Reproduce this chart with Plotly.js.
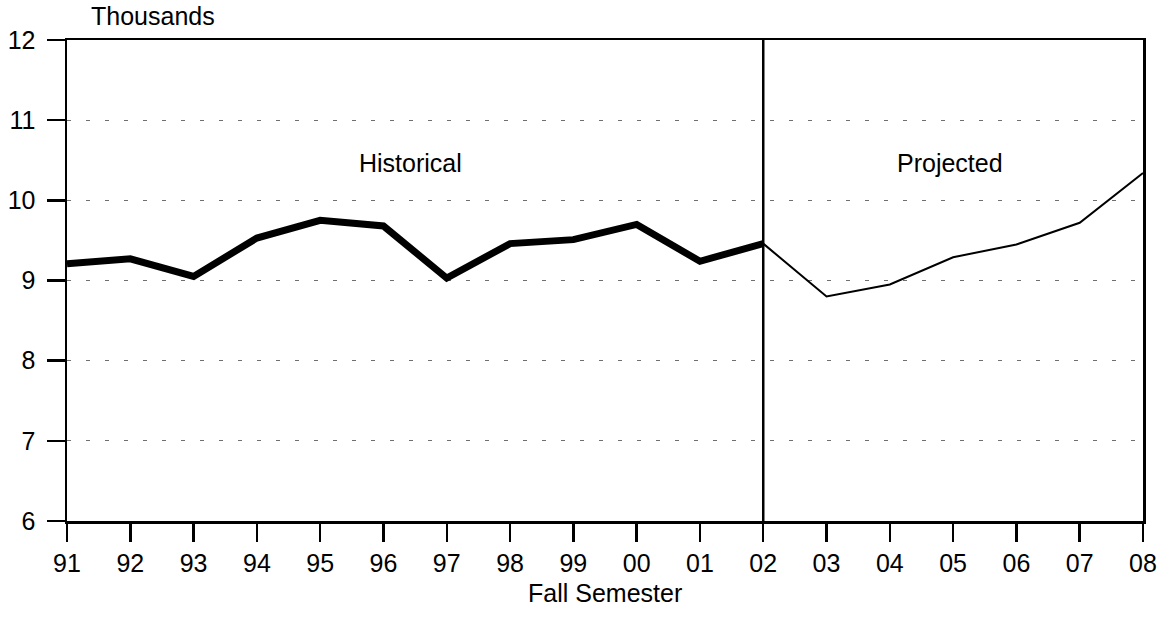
<!DOCTYPE html>
<html>
<head>
<meta charset="utf-8">
<script src="https://cdn.plot.ly/plotly-3.0.1.min.js"></script>
<style>html,body{margin:0;padding:0;background:#fff;}#chart{width:1164px;height:632px;}</style>
</head>
<body>
<div id="chart"></div>
<script>
const yearLabels = ["91","92","93","94","95","96","97","98","99","00","01","02","03","04","05","06","07","08"];
const historicalYears = ["91","92","93","94","95","96","97","98","99","00","01","02"];
const historicalValues = [9.21, 9.27, 9.05, 9.53, 9.75, 9.68, 9.03, 9.46, 9.51, 9.70, 9.24, 9.46];
const projectedYears = ["02","03","04","05","06","07","08"];
const projectedValues = [9.46, 8.80, 8.95, 9.29, 9.45, 9.72, 10.34];
const yTicks = [6, 7, 8, 9, 10, 11, 12];

const idx = y => yearLabels.indexOf(y);
const font = {family: "Liberation Sans, Arial, sans-serif", size: 25, color: "#000"};
const divider = idx(historicalYears[historicalYears.length - 1]);

const traces = [
  {x: historicalYears.map(idx), y: historicalValues, type: "scatter", mode: "lines",
   line: {color: "#000", width: 7}, hoverinfo: "skip"},
  {x: projectedYears.map(idx), y: projectedValues, type: "scatter", mode: "lines",
   line: {color: "#000", width: 2}, hoverinfo: "skip"}
];

const layout = {
  width: 1164, height: 632,
  margin: {l: 67, r: 21, t: 40, b: 111},
  paper_bgcolor: "#fff", plot_bgcolor: "#fff",
  showlegend: false,
  font: font,
  xaxis: {
    range: [0, yearLabels.length - 1],
    tickmode: "array", tickvals: yearLabels.map((_, i) => i), ticktext: yearLabels,
    ticks: "outside", ticklen: 18, tickwidth: 2.5, tickcolor: "#000",
    showline: true, linecolor: "#000", linewidth: 2.5, mirror: true,
    showgrid: false, zeroline: false, tickfont: font
  },
  yaxis: {
    range: [yTicks[0], yTicks[yTicks.length - 1]],
    tickmode: "array", tickvals: yTicks, ticktext: yTicks.map(String),
    ticks: "outside", ticklen: 18, tickwidth: 2.5, tickcolor: "#000",
    ticklabelstandoff: 6,
    showline: true, linecolor: "#000", linewidth: 2.5, mirror: true,
    showgrid: true, gridcolor: "#6f6f6f", gridwidth: 1, griddash: "4px,15px",
    zeroline: false, tickfont: font
  },
  shapes: [
    {type: "line", xref: "x", yref: "paper", x0: divider, x1: divider, y0: 0, y1: 1,
     line: {color: "#000", width: 2.5}}
  ],
  annotations: [
    {text: "Thousands", xref: "paper", yref: "paper", x: 0.0205, y: 1.05,
     xanchor: "left", yanchor: "middle", showarrow: false, font: font},
    {text: "Historical", xref: "paper", yref: "y", x: 0.319, y: 10.47,
     xanchor: "center", yanchor: "middle", showarrow: false, font: font},
    {text: "Projected", xref: "paper", yref: "y", x: 0.821, y: 10.47,
     xanchor: "center", yanchor: "middle", showarrow: false, font: font},
    {text: "Fall Semester", xref: "paper", yref: "paper", x: 0.5, y: -0.15,
     xanchor: "center", yanchor: "middle", showarrow: false, font: font}
  ]
};

Plotly.newPlot("chart", traces, layout, {staticPlot: true, displayModeBar: false});
</script>
</body>
</html>
